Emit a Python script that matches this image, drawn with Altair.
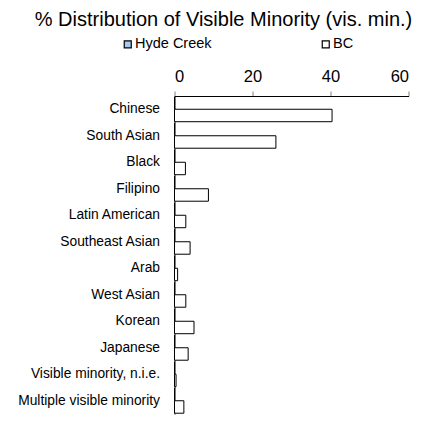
import altair as alt
import pandas as pd

categories = ["Chinese", "South Asian", "Black", "Filipino", "Latin American",
              "Southeast Asian", "Arab", "West Asian", "Korean", "Japanese",
              "Visible minority, n.i.e.", "Multiple visible minority"]
hyde_creek = [0, 0, 0, 0, 0, 0, 0, 0, 0, 0, 0, 0]
bc = [40.4, 26.0, 2.8, 8.7, 2.9, 4.0, 0.8, 2.9, 5.0, 3.5, 0.4, 2.4]
series = ["Hyde Creek", "BC"]
x_ticks = [0, 20, 40, 60]

rows = []
for c, h, b in zip(categories, hyde_creek, bc):
    rows.append({"category": c, "series": "Hyde Creek", "value": h})
    rows.append({"category": c, "series": "BC", "value": b})
df = pd.DataFrame(rows)

FONT = "Liberation Sans"

chart = alt.Chart(df).mark_bar(stroke="black", strokeWidth=1).encode(
    y=alt.Y("category:N", sort=categories,
            scale=alt.Scale(paddingInner=0.06, paddingOuter=0.03),
            axis=alt.Axis(title=None, ticks=False, tickSize=0, labelPadding=15,
                          labelFontSize=13.8, labelFont=FONT, labelColor="black",
                          domainColor="black", labelLimit=300)),
    yOffset=alt.YOffset("series:N", sort=series,
                        scale=alt.Scale(paddingInner=0, paddingOuter=0)),
    x=alt.X("value:Q", scale=alt.Scale(domain=[0, 60], nice=False),
            axis=alt.Axis(orient="top", values=x_ticks, grid=False, title=None,
                          tickColor="gray", tickSize=5, labelPadding=7,
                          labelFontSize=16.5, labelFont=FONT, labelColor="black",
                          domainColor="black")),
    fill=alt.Fill("series:N",
                  scale=alt.Scale(domain=series, range=["#a6caf0", "white"]),
                  legend=alt.Legend(orient="none", legendX=-54, legendY=-59,
                                    direction="horizontal", title=None,
                                    symbolType="square", symbolSize=49,
                                    symbolStrokeColor="black", symbolStrokeWidth=1.2,
                                    labelFontSize=14.5, labelFont=FONT,
                                    labelColor="black", columnPadding=106,
                                    labelOffset=0, padding=0)),
).properties(
    width=234,
    height=318,
    title=alt.TitleParams("% Distribution of Visible Minority (vis. min.)",
                          fontSize=20, font=FONT, fontWeight="normal",
                          anchor="middle", dx=-68, dy=-3, color="black"),
    autosize=alt.AutoSizeParams(type="none"),
    padding={"left": 166.5, "top": 88, "right": 29.5, "bottom": 6},
).configure_view(stroke=None)

chart.save("out.html", embed_options={"renderer": "svg", "actions": False})
